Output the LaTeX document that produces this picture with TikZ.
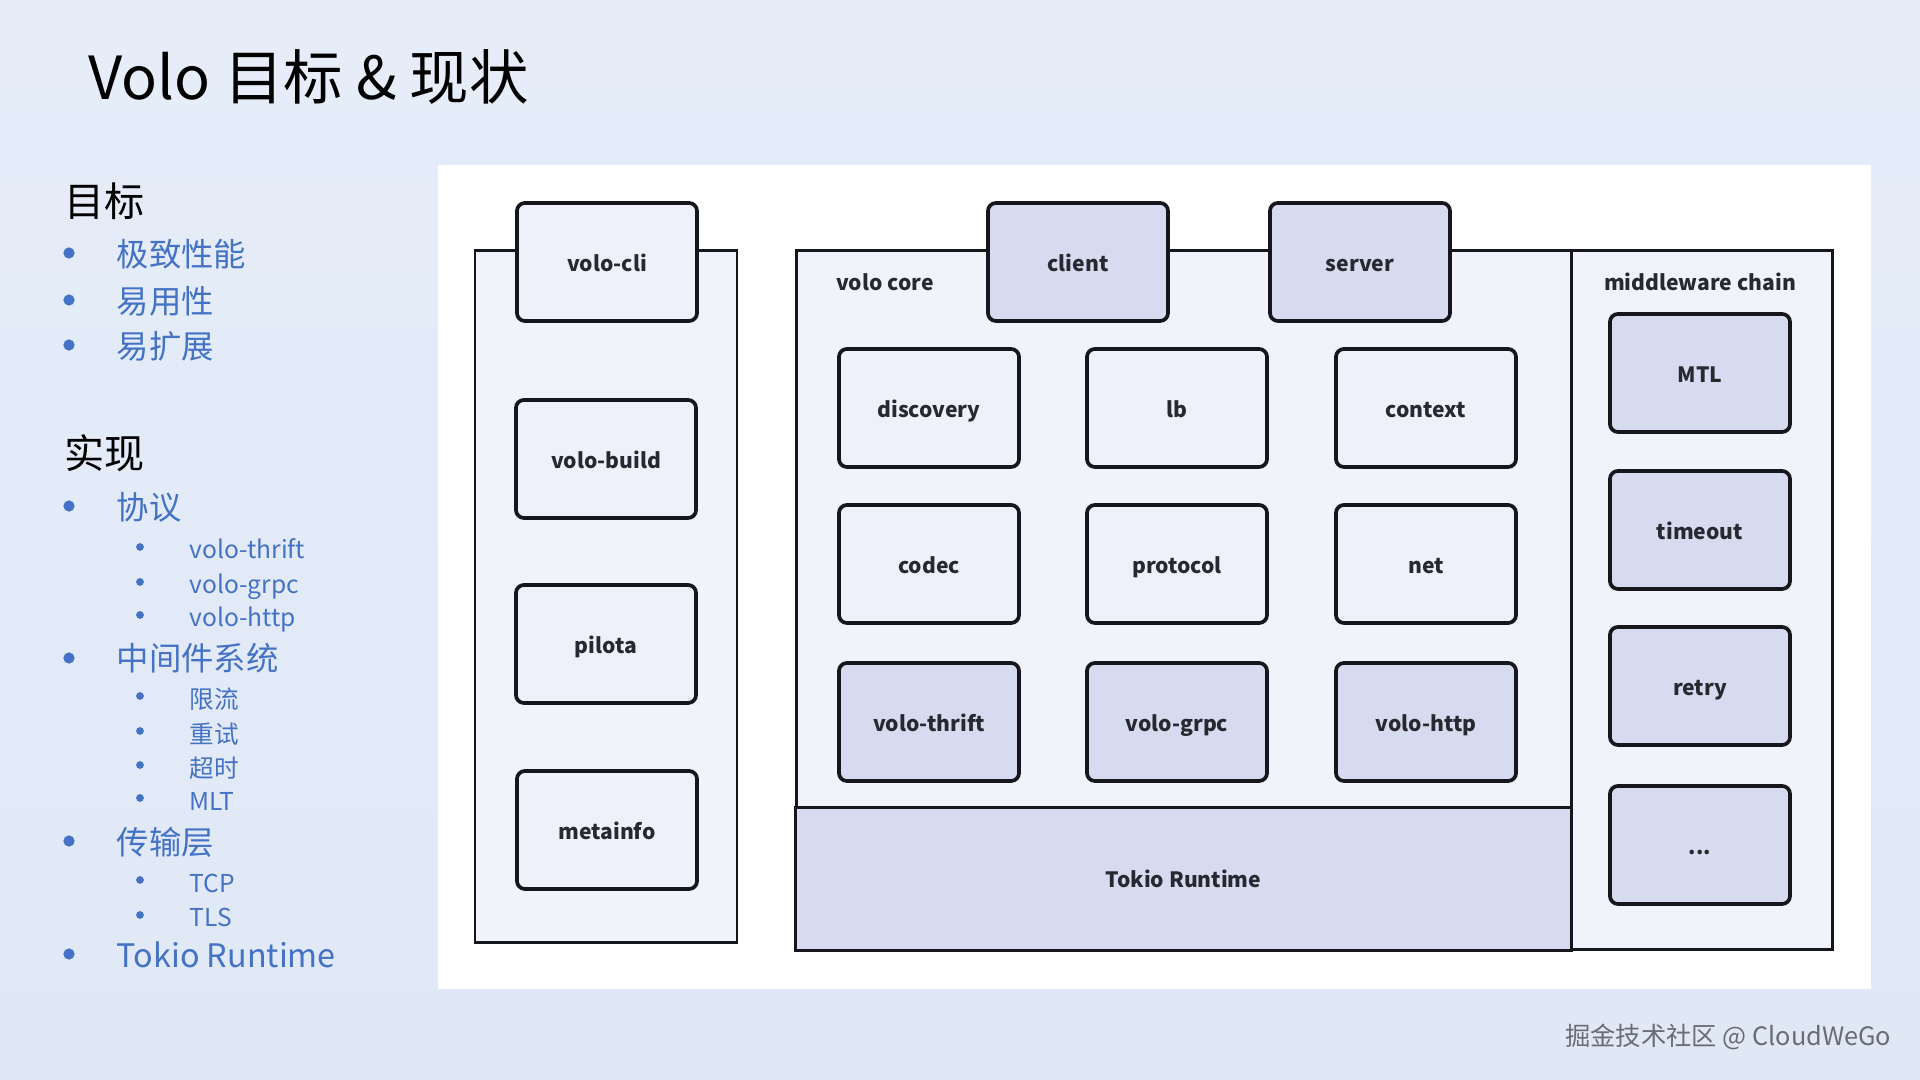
\documentclass[tikz,border=0pt]{standalone}
\usepackage{fontspec}
\setmainfont{Noto Sans CJK SC}
\definecolor{slidebg}{RGB}{224, 232, 246}
\definecolor{slidebgtop}{RGB}{230, 237, 249}
\definecolor{panelfill}{RGB}{240, 243, 250}
\definecolor{boxlight}{RGB}{238, 241, 249}
\definecolor{boxdark}{RGB}{214, 219, 240}
\definecolor{listblue}{RGB}{68, 114, 196}
\definecolor{edge}{RGB}{22, 22, 28}
\definecolor{labeltext}{RGB}{40, 40, 48}
\definecolor{footergray}{RGB}{105, 108, 115}
\usetikzlibrary{positioning}

\begin{document}
\begin{tikzpicture}[
        x=0.01cm, y=-0.01cm,
        box/.style={draw=edge, line width=1.05pt, rounded corners=2.3pt,
                    minimum width=1.8cm, minimum height=1.18cm,
                    text height=0.75em, text depth=0.2em,
                    text=labeltext, font=\fontsize{6pt}{7pt}\selectfont\bfseries},
        panel/.style={draw=edge, line width=0.85pt, fill=panelfill},
        tag/.style={inner sep=0, text=labeltext,
                    font=\fontsize{6pt}{7pt}\selectfont\bfseries},
        heading/.style={anchor=west, inner sep=0, text height=0.88em, text depth=0.12em,
                    font=\fontsize{11.4pt}{13pt}\selectfont},
        item/.style={anchor=west, inner sep=0, text=listblue, text height=0.88em,
                    text depth=0.12em, font=\fontsize{9.2pt}{11pt}\selectfont},
        subitem/.style={anchor=west, inner sep=0, text=listblue, text height=0.88em,
                    text depth=0.12em, font=\fontsize{7pt}{8pt}\selectfont},
        dot/.style={circle, fill=listblue, inner sep=0, minimum size=3.2pt},
        subdot/.style={dot, minimum size=2.2pt}
    ]
        \useasboundingbox (0,0) rectangle (1920,1080);
        % Slide background
        \shade[top color=slidebgtop, bottom color=slidebg] (0,0) rectangle (1920,1080);

        % Title
        \node[anchor=west, inner sep=0, font=\fontsize{16.9pt}{19pt}\selectfont]
            (title) at (88,77) {Volo 目标 \& 现状};

        % Goals
        \node[heading] (goals) at (64,203) {目标};
        \node[item] (perf) at (116,253) {极致性能};
        \node[item] (easyuse) at (116,300) {易用性};
        \node[item] (easyext) at (116,345) {易扩展};

        % Implementation
        \node[heading] (impl) at (64,455) {实现};
        \node[item] (proto) at (116,506) {协议};
        \node[subitem] (pthrift) at (189,545) {volo-thrift};
        \node[subitem] (pgrpc) at (189,580) {volo-grpc};
        \node[subitem] (phttp) at (189,613) {volo-http};
        \node[item] (mwsys) at (116,657) {中间件系统};
        \node[subitem] (limit) at (189,695) {限流};
        \node[subitem] (retrys) at (189,730) {重试};
        \node[subitem] (tmo) at (189,764) {超时};
        \node[subitem] (mlts) at (189,797) {MLT};
        \node[item] (transport) at (116,841) {传输层};
        \node[subitem] (tcp) at (189,879) {TCP};
        \node[subitem] (tls) at (189,913) {TLS};
        \node[item] (tokioitem) at (116,954) {Tokio Runtime};

        % Bullets
        \foreach \y in {253,300,345,506,658,841,954}
            \node[dot] (d\y) at (69,\y) {};
        \foreach \y in {547,582,615,696,731,765,798,880,915}
            \node[subdot] (s\y) at (140,\y) {};

        % Architecture panel
        \fill[white] (438,165) rectangle (1871,989);
        \draw[panel] (475,251) rectangle (737,943);
        \draw[panel] (796,251) rectangle (1571,950);
        \draw[panel] (1571,251) rectangle (1832,950);

        % Tools column
        \node[box, fill=boxlight] (cli) at (607,262) {volo-cli};
        \node[box, fill=boxlight] (build) at (606,459) {volo-build};
        \node[box, fill=boxlight] (pilota) at (606,644) {pilota};
        \node[box, fill=boxlight] (metainfo) at (607,830) {metainfo};

        % Volo core
        \node[tag] (core) at (885,282) {volo core};
        \node[box, fill=boxdark] (client) at (1078,262) {client};
        \node[box, fill=boxdark] (server) at (1360,262) {server};
        \node[box, fill=boxlight] (discovery) at (929,408) {discovery};
        \node[box, fill=boxlight] (lb) at (1177,408) {lb};
        \node[box, fill=boxlight] (context) at (1426,408) {context};
        \node[box, fill=boxlight] (codec) at (929,564) {codec};
        \node[box, fill=boxlight] (protocol) at (1177,564) {protocol};
        \node[box, fill=boxlight] (net) at (1426,564) {net};
        \node[box, fill=boxdark] (thrift) at (929,722) {volo-thrift};
        \node[box, fill=boxdark] (grpc) at (1177,722) {volo-grpc};
        \node[box, fill=boxdark] (http) at (1426,722) {volo-http};
        \node[draw=edge, line width=0.85pt, fill=boxdark, minimum width=7.75cm,
              minimum height=1.42cm, text=labeltext,
              font=\fontsize{6pt}{7pt}\selectfont\bfseries] (tokio) at (1183.5,879) {Tokio Runtime};

        % Middleware chain
        \node[tag] (chain) at (1700,282) {middleware chain};
        \node[box, fill=boxdark] (mtl) at (1700,373) {MTL};
        \node[box, fill=boxdark] (timeout) at (1700,530) {timeout};
        \node[box, fill=boxdark] (retry) at (1700,686) {retry};
        \node[box, fill=boxdark] (more) at (1700,845) {...};

        % Footer
        \node[anchor=east, inner sep=0, text=footergray,
              font=\fontsize{7.2pt}{9pt}\selectfont] (footer) at (1892,1037) {掘金技术社区 @ CloudWeGo};
    \end{tikzpicture}
\end{document}
